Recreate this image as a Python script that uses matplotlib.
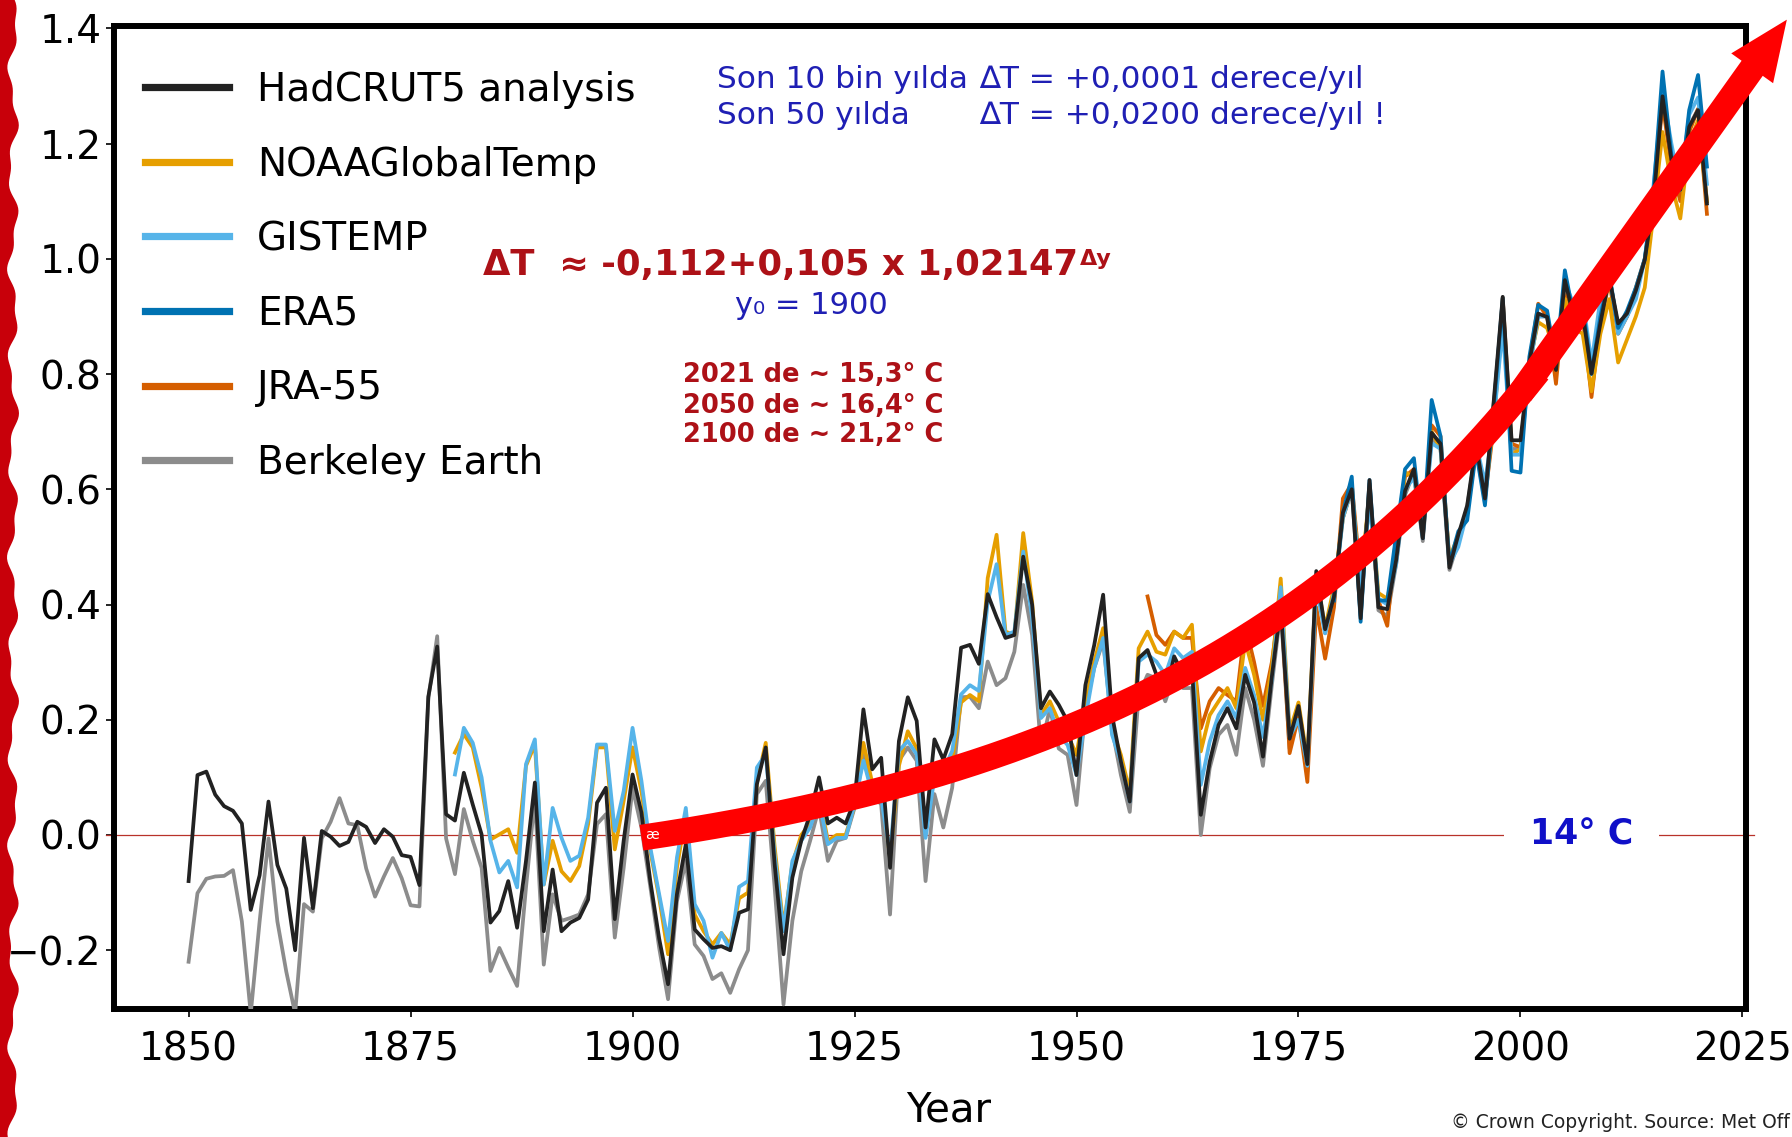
import numpy as np
import matplotlib
matplotlib.use("Agg")
import matplotlib.pyplot as plt
from matplotlib.patches import Polygon, FancyArrowPatch, ArrowStyle

plt.rcParams['font.family'] = ['DejaVu Sans']

# ---------------- data ----------------
years_hadcrut = list(range(1850, 2022))
hadcrut5 = [
    -0.08, 0.104, 0.11, 0.07, 0.05, 0.042, 0.02, -0.13, -0.07, 0.058,
    -0.052, -0.093, -0.2, -0.005, -0.127, 0.007, -0.003, -0.019, -0.012, 0.023,
    0.014, -0.014, 0.01, -0.003, -0.035, -0.038, -0.087, 0.24, 0.327, 0.036,
    0.025, 0.108, 0.053, 0.001, -0.152, -0.132, -0.08, -0.161, -0.045, 0.091,
    -0.167, -0.06, -0.167, -0.152, -0.144, -0.112, 0.056, 0.082, -0.146, -0.01,
    0.105, 0.039, -0.08, -0.18, -0.259, -0.103, -0.016, -0.164, -0.181, -0.196,
    -0.193, -0.2, -0.135, -0.129, 0.088, 0.152, -0.05, -0.207, -0.074, -0.01,
    0.036, 0.1, 0.02, 0.03, 0.02, 0.06, 0.218, 0.114, 0.134, -0.057,
    0.163, 0.239, 0.198, 0.013, 0.166, 0.131, 0.175, 0.325, 0.33, 0.297,
    0.418, 0.378, 0.342, 0.347, 0.483, 0.4, 0.22, 0.249, 0.226, 0.197,
    0.104, 0.26, 0.33, 0.417, 0.208, 0.127, 0.058, 0.307, 0.321, 0.278,
    0.243, 0.31, 0.278, 0.29, 0.035, 0.127, 0.191, 0.22, 0.185, 0.278,
    0.23, 0.136, 0.275, 0.395, 0.167, 0.224, 0.123, 0.458, 0.357, 0.414,
    0.559, 0.6, 0.376, 0.616, 0.395, 0.392, 0.477, 0.597, 0.635, 0.515,
    0.698, 0.679, 0.464, 0.521, 0.572, 0.679, 0.584, 0.755, 0.934, 0.685,
    0.685, 0.82, 0.905, 0.899, 0.807, 0.963, 0.899, 0.905, 0.801, 0.888,
    0.968, 0.888, 0.905, 0.945, 0.998, 1.102, 1.282, 1.172, 1.12, 1.229,
    1.258, 1.096]

years_berkeley = list(range(1850, 2022))
berkeley = [
    -0.22, -0.101, -0.076, -0.072, -0.071, -0.061, -0.15, -0.31, -0.15, -0.006,
    -0.15, -0.237, -0.31, -0.12, -0.133, -0.006, 0.023, 0.064, 0.02, 0.017,
    -0.058, -0.107, -0.072, -0.04, -0.075, -0.122, -0.124, 0.237, 0.345, -0.006,
    -0.068, 0.045, -0.01, -0.057, -0.236, -0.196, -0.23, -0.262, -0.091, 0.065,
    -0.225, -0.103, -0.149, -0.144, -0.138, -0.103, 0.019, 0.036, -0.178, -0.057,
    0.082, 0.013, -0.09, -0.196, -0.285, -0.115, -0.045, -0.19, -0.21, -0.25,
    -0.24, -0.274, -0.233, -0.2, 0.071, 0.094, -0.09, -0.294, -0.149, -0.063,
    -0.01, 0.047, -0.045, -0.01, -0.005, 0.047, 0.14, 0.071, 0.053, -0.138,
    0.129, 0.152, 0.129, -0.08, 0.071, 0.013, 0.082, 0.239, 0.24, 0.22,
    0.301, 0.26, 0.272, 0.318, 0.434, 0.347, 0.15, 0.22, 0.15, 0.139,
    0.052, 0.22, 0.29, 0.336, 0.185, 0.104, 0.04, 0.243, 0.278, 0.272,
    0.232, 0.278, 0.255, 0.255, 0.0, 0.116, 0.174, 0.191, 0.139, 0.255,
    0.2, 0.12, 0.26, 0.39, 0.15, 0.21, 0.11, 0.45, 0.35, 0.41,
    0.55, 0.6, 0.38, 0.61, 0.39, 0.38, 0.47, 0.59, 0.63, 0.51,
    0.69, 0.67, 0.46, 0.51, 0.57, 0.67, 0.58, 0.75, 0.92, 0.67,
    0.67, 0.81, 0.9, 0.9, 0.81, 0.96, 0.9, 0.91, 0.8, 0.89,
    0.97, 0.88, 0.9, 0.94, 1.0, 1.1, 1.28, 1.17, 1.12, 1.23,
    1.26, 1.1]

years_gistemp = list(range(1880, 2022))
gistemp = [
    0.105, 0.186, 0.16, 0.1, -0.01, -0.065, -0.045, -0.091, 0.123, 0.166,
    -0.086, 0.047, -0.005, -0.045, -0.036, 0.03, 0.157, 0.157, 0.007, 0.076,
    0.186, 0.094, -0.022, -0.103, -0.184, -0.039, 0.047, -0.12, -0.149, -0.213,
    -0.17, -0.2, -0.09, -0.08, 0.117, 0.14, -0.034, -0.167, -0.045, -0.01,
    0.013, 0.059, -0.016, -0.005, -0.005, 0.053, 0.129, 0.071, 0.065, -0.034,
    0.146, 0.163, 0.14, -0.005, 0.1, 0.111, 0.146, 0.244, 0.26, 0.25,
    0.405, 0.47, 0.347, 0.353, 0.492, 0.376, 0.203, 0.22, 0.174, 0.156,
    0.104, 0.203, 0.29, 0.342, 0.174, 0.127, 0.058, 0.301, 0.313, 0.301,
    0.278, 0.324, 0.307, 0.318, 0.087, 0.162, 0.208, 0.232, 0.203, 0.29,
    0.243, 0.17, 0.27, 0.43, 0.17, 0.2, 0.12, 0.43, 0.35, 0.42,
    0.55, 0.6, 0.42, 0.58, 0.41, 0.4, 0.47, 0.6, 0.62, 0.52,
    0.68, 0.67, 0.47, 0.5, 0.56, 0.68, 0.61, 0.72, 0.88, 0.66,
    0.66, 0.81, 0.9, 0.9, 0.83, 0.96, 0.92, 0.93, 0.82, 0.93,
    0.98, 0.87, 0.9, 0.93, 1.0, 1.13, 1.29, 1.2, 1.12, 1.25,
    1.28, 1.13]

years_noaa = list(range(1880, 2022))
noaa = [
    0.143, 0.175, 0.152, 0.082, -0.008, 0.001, 0.01, -0.031, 0.12, 0.157,
    -0.086, -0.01, -0.063, -0.08, -0.054, 0.019, 0.152, 0.152, -0.025, 0.059,
    0.152, 0.076, -0.028, -0.109, -0.207, -0.057, 0.036, -0.138, -0.167, -0.19,
    -0.17, -0.19, -0.11, -0.1, 0.09, 0.16, -0.02, -0.16, -0.05, 0.0,
    0.02, 0.07, -0.01, 0.0, 0.0, 0.05, 0.16, 0.09, 0.08, -0.04,
    0.12, 0.18, 0.15, 0.01, 0.12, 0.1, 0.13, 0.23, 0.243, 0.232,
    0.446, 0.521, 0.353, 0.347, 0.524, 0.405, 0.208, 0.232, 0.197, 0.174,
    0.139, 0.232, 0.301, 0.359, 0.185, 0.139, 0.075, 0.324, 0.353, 0.318,
    0.313, 0.353, 0.342, 0.365, 0.145, 0.208, 0.232, 0.255, 0.22, 0.336,
    0.278, 0.2, 0.29, 0.445, 0.18, 0.23, 0.13, 0.45, 0.36, 0.43,
    0.55, 0.6, 0.43, 0.6, 0.42, 0.41, 0.48, 0.63, 0.62, 0.53,
    0.7, 0.67, 0.48, 0.52, 0.56, 0.67, 0.59, 0.72, 0.9, 0.66,
    0.67, 0.82, 0.89, 0.88, 0.83, 0.93, 0.88, 0.87, 0.77, 0.87,
    0.93, 0.82, 0.86, 0.9, 0.95, 1.08, 1.22, 1.13, 1.07, 1.2,
    1.24, 1.1]

years_jra55 = list(range(1958, 2022))
jra55 = [
    0.414, 0.347, 0.33, 0.353, 0.342, 0.342, 0.185, 0.232, 0.255, 0.243,
    0.232, 0.365, 0.3, 0.224, 0.3, 0.414, 0.142, 0.205, 0.092, 0.395,
    0.306, 0.395, 0.584, 0.61, 0.445, 0.584, 0.407, 0.363, 0.521, 0.622,
    0.635, 0.521, 0.711, 0.692, 0.471, 0.521, 0.559, 0.679, 0.584, 0.711,
    0.932, 0.679, 0.673, 0.82, 0.922, 0.9, 0.783, 0.95, 0.9, 0.9,
    0.76, 0.89, 0.96, 0.87, 0.9, 0.95, 1.0, 1.1, 1.27, 1.16,
    1.1, 1.22, 1.26, 1.078]

years_era5 = list(range(1979, 2022))
era5 = [
    0.407, 0.559, 0.622, 0.37, 0.616, 0.407, 0.407, 0.521, 0.635, 0.654,
    0.515, 0.755, 0.692, 0.471, 0.527, 0.546, 0.666, 0.572, 0.742, 0.932,
    0.632, 0.629, 0.83, 0.92, 0.91, 0.82, 0.98, 0.9, 0.92, 0.8,
    0.9, 0.97, 0.88, 0.91, 0.95, 1.0, 1.12, 1.325, 1.18, 1.12,
    1.258, 1.319, 1.16]

series_labels = ["HadCRUT5 analysis", "NOAAGlobalTemp", "GISTEMP", "ERA5",
                 "JRA-55", "Berkeley Earth"]

# fit shown on the chart: dT = A + B * C**(year - Y0)
fit_A, fit_B, fit_C, fit_Y0 = -0.112, 0.105, 1.02147, 1900
arrow_start_year, arrow_bend_year = 1901, 2000
arrow_tip = (2030.0, 1.415)

xticks = [1850, 1875, 1900, 1925, 1950, 1975, 2000, 2025]
yticks = [-0.2, 0.0, 0.2, 0.4, 0.6, 0.8, 1.0, 1.2, 1.4]

# ---------------- figure ----------------
W, H, DPI = 1792, 1137, 100
fig = plt.figure(figsize=(W / DPI, H / DPI), dpi=DPI, facecolor='white')
ax_l, ax_r, ax_t, ax_b = 114, 1746, 26, 1009
ax = fig.add_axes([ax_l / W, 1 - ax_b / H, (ax_r - ax_l) / W, (ax_b - ax_t) / H])

lw = 2.7
col = {"HadCRUT5 analysis": "#222222", "NOAAGlobalTemp": "#E69F00",
       "GISTEMP": "#56B4E9", "ERA5": "#0072B2", "JRA-55": "#D55E00",
       "Berkeley Earth": "#8c8c8c"}

h_bk, = ax.plot(years_berkeley, berkeley, color=col["Berkeley Earth"], lw=lw, zorder=3)
h_jra, = ax.plot(years_jra55, jra55, color=col["JRA-55"], lw=lw, zorder=3)
h_noaa, = ax.plot(years_noaa, noaa, color=col["NOAAGlobalTemp"], lw=lw, zorder=3)
h_gis, = ax.plot(years_gistemp, gistemp, color=col["GISTEMP"], lw=lw, zorder=3)
h_era, = ax.plot(years_era5, era5, color=col["ERA5"], lw=lw, zorder=3)
h_had, = ax.plot(years_hadcrut, hadcrut5, color=col["HadCRUT5 analysis"], lw=lw, zorder=4)

# zero line (14 C reference)
ax.plot([1840.7, 2026.3], [0, 0], color='#b8322a', lw=0.9, zorder=2, clip_on=False)

ax.set_xlim(1841.6, 2025.4)
ax.set_ylim(-0.302, 1.404)
ax.set_xticks(xticks)
ax.set_yticks(yticks)
ax.tick_params(axis='both', direction='out', length=5.8, width=1.2,
               labelsize=28, pad=3, color='black')
ax.tick_params(axis='x', pad=10)
for s in ax.spines.values():
    s.set_linewidth(4.3)
    s.set_color('black')

ax.set_xlabel('Year', fontsize=29)
ax.xaxis.label.set_va('center')
ax.xaxis.set_label_coords((948.6 - ax_l) / (ax_r - ax_l), (ax_b - 1110) / (ax_b - ax_t))

# legend
leg = ax.legend([h_had, h_noaa, h_gis, h_era, h_jra, h_bk], series_labels,
                loc='upper left', bbox_to_anchor=(145 / W, 1 - 71 / H),
                bbox_transform=fig.transFigure, frameon=False, fontsize=28,
                handlelength=2.16, handletextpad=0.72, labelspacing=0.94,
                borderpad=0, borderaxespad=0)
for ln in leg.get_lines():
    ln.set_linewidth(5.2)

# red fit arrow
yrs = np.arange(arrow_start_year, arrow_bend_year + 2.01, 0.25)
fit = fit_A + fit_B * fit_C ** (yrs - fit_Y0)
ax.plot(yrs, fit, color='#ff0000', lw=18.7, solid_capstyle='butt',
        zorder=10, clip_on=False)
bend_val = fit_A + fit_B * fit_C ** (arrow_bend_year - fit_Y0)
arr = FancyArrowPatch(posA=(arrow_bend_year, bend_val), posB=arrow_tip,
                      arrowstyle=ArrowStyle('Simple', head_length=4.3,
                                            head_width=3.7, tail_width=1.87),
                      mutation_scale=10, color='#ff0000', lw=0,
                      shrinkA=0, shrinkB=0, zorder=10, clip_on=False)
ax.add_patch(arr)

# ---------------- texts ----------------
def ftext(x, y, s, **kw):
    return fig.text(x / W, 1 - y / H, s, va='center', **kw)

blue = '#1f1fb4'
dred = '#ad1117'
ftext(716.6, 80, 'Son 10 bin yılda', fontsize=22.5, color=blue)
ftext(979, 80, '∆T = +0,0001 derece/yıl', fontsize=22.5, color=blue)
ftext(716.6, 115.4, 'Son 50 yılda', fontsize=22.5, color=blue)
ftext(979, 115.4, '∆T = +0,0200 derece/yıl !', fontsize=22.5, color=blue)

ft = ftext(483, 265, 'ΔT  ≈ -0,112+0,105 x 1,02147', fontsize=25.5,
           fontweight='bold', color=dred)
ax.annotate('Δy', xy=(1.0, 1.0), xycoords=ft, xytext=(1.5, -1),
            textcoords='offset points', ha='left', va='top', fontsize=16,
            fontweight='bold', color=dred, annotation_clip=False)

ftext(735, 306, 'y₀ = 1900', fontsize=22, color=blue)

ftext(683, 375, '2021 de ~ 15,3° C', fontsize=18.5, fontweight='bold', color=dred)
ftext(683, 406, '2050 de ~ 16,4° C', fontsize=18.5, fontweight='bold', color=dred)
ftext(683, 435, '2100 de ~ 21,2° C', fontsize=18.5, fontweight='bold', color=dred)

ax.text(1901.4, 0.0, 'æ', fontsize=10, color='white', va='center', ha='left', zorder=11)

ax.text(2006.9, 0.0, '14° C', fontsize=25, fontweight='bold', color='#1010c8',
        ha='center', va='center', zorder=5,
        bbox=dict(boxstyle='square,pad=0.75', fc='white', ec='none'))

ftext(1790, 1122, '© Crown Copyright. Source: Met Off', fontsize=13.5,
      color='#222222', ha='right')

# decorative red torn edge on the left
ys = np.linspace(0, H, 400)
edge = 13 + 4 * np.sin(2 * np.pi * ys / 97.0) + 2 * np.sin(2 * np.pi * ys / 41.0 + 1.0)
verts = [(0, 1)] + [(e / W, 1 - y / H) for e, y in zip(edge, ys)] + [(0, 0)]
fig.add_artist(Polygon(verts, closed=True, transform=fig.transFigure,
                       fc='#c8000a', ec='none', zorder=20))

fig.savefig('out.png', dpi=DPI, facecolor='white')
